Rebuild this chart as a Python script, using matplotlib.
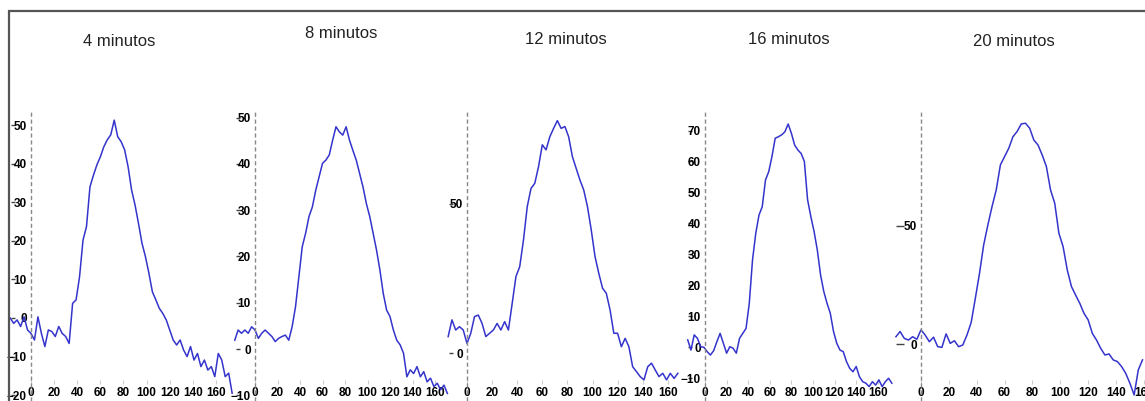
import numpy as np
import matplotlib.pyplot as plt
from matplotlib.patches import Rectangle
from matplotlib.ticker import FixedLocator, NullFormatter

minutos = [4, 8, 12, 16, 20]
titulos = [f"{m} minutos" for m in minutos]

# first sample time of each trace, samples every 3 units
x_inicio = [-18, -18, -15, -16, -18]
paso = 3

traza_4 = [0, -1.4, -0.5, -2.2, 0.3, -3.1, -4, -5.7, 0.3, -4, -7.4, -3.1, -3.5,
           -4.8, -2.2, -4, -4.8, -6.6, 3.8, 4.7, 10.7, 20.2, 23.7, 34, 37, 39.7,
           41.8, 44.4, 46.2, 47.5, 51.3, 47, 45.7, 43.6, 39.2, 33.2, 29.3, 24.5,
           19.4, 15.9, 11.6, 6.8, 4.7, 2.5, 1.2, -0.5, -3.1, -5.7, -7, -5.7, -8.3,
           -10, -7.4, -10.9, -9.2, -12.6, -10.9, -13.5, -12.6, -15.2, -9.2, -10.9,
           -15.2, -14.3, -19.5]
traza_8 = [1.9, 4.1, 3.4, 4.1, 3.4, 4.8, 4.1, 2.3, 3.4, 4.1, 3.4, 2.7, 1.6, 2.3,
           2.7, 3.0, 1.9, 4.8, 9.1, 15.6, 22.1, 25, 28.6, 30.7, 34.3, 37.2, 40.1,
           40.8, 41.9, 45.1, 48, 46.9, 46.2, 48, 45.1, 42.9, 40.8, 37.9, 35, 31.4,
           28.6, 25, 21.4, 17.1, 12, 8.4, 7, 4.1, 1.9, 0.9, -0.9, -6, -4.5, -5.3,
           -3.8, -6, -4.9, -7.1, -6.3, -8.1, -7.4, -8.8, -7.8, -9.6]
traza_12 = [5.6, 11.2, 7.8, 8.9, 7.8, 3.3, 6.7, 12.3, 12.8, 10, 5.6, 6.7, 7.8, 10,
            7.8, 10.6, 7.8, 16.7, 25.7, 29, 37.9, 49.1, 55.2, 56.9, 62.5, 69.8,
            68.1, 72.5, 75.3, 77.9, 75.3, 75.9, 72.5, 65.8, 61.9, 58, 54.7, 49.1,
            41.3, 32.4, 26.8, 21.8, 20.1, 14.5, 6.7, 6.7, 2.2, 5, 2.2, -4.5, -6.1,
            -7.8, -8.9, -4.5, -3.3, -5.6, -7.8, -6.7, -8.9, -6.7, -8.4, -6.7]
traza_16 = [2.4, -0.9, 4, 2.9, 0.2, 0, -1.4, -2.5, -1.1, 1.8, 4.5, 1.3, -1.9, 0.2,
            -0.3, -1.9, 2.9, 4.5, 6.1, 14.2, 28.2, 36.8, 42.7, 45.4, 54, 56.7,
            61.6, 67.5, 68, 68.6, 69.6, 72.1, 69.1, 65.3, 63.7, 62.6, 60, 47.6,
            42.2, 37.4, 31.4, 23.4, 18, 14.2, 11, 5.1, 1.3, -0.9, -1.4, -4.6,
            -6.8, -7.9, -6.2, -9.5, -11.1, -11.6, -12.7, -11.1, -12.2, -10.5,
            -12.7, -11.1, -10, -11.6]
traza_20 = [3.2, 5.4, 2.5, 1.8, 3.2, 2.1, 6.1, 3.9, 1.1, 3, -1, -1.3, 4.4, 0.4,
            1.5, -1, -0.3, 3.9, 9.2, 19.4, 30, 42, 50.4, 58.2, 65.2, 75.8, 79.3,
            82.8, 87.7, 89.9, 93.1, 93.4, 91.3, 86.3, 84.2, 80, 75.1, 65.2, 59.6,
            46.9, 41.3, 31.4, 24.4, 20.8, 17.3, 13.1, 10.3, 4.6, 1.8, -1.7, -4.5,
            -4.1, -6.6, -7.3, -9.4, -12.3, -16.5, -21.4, -10.8, -6.6]
trazas = [traza_4, traza_8, traza_12, traza_16, traza_20]

yticks = [
    [-20, -10, 0, 10, 20, 30, 40, 50],
    [-10, 0, 10, 20, 30, 40, 50],
    [0, 50],
    [-10, 0, 10, 20, 30, 40, 50, 60, 70],
    [0, 50],
]
xticks = [0, 20, 40, 60, 80, 100, 120, 140, 160]

W, H = 1145, 401
TOP, BOT = 110, 401

# pixel layout per panel: left, right, x=0 column, px per x unit,
# y=0 row, px per y unit, y tick mark column, tick length, title x, title y
paneles = [
    (10, 234, 31, 1.156, 318.0, 3.857, 11, 3, 119, 42),
    (234, 452, 255, 1.125, 349.0, 4.63, 236, 3, 341, 34),
    (447, 684, 467, 1.255, 353.3, 2.987, 449, 3, 566, 39),
    (684, 898, 705, 1.08, 347.3, 3.097, 688, 3, 789, 39),
    (893, 1145, 921, 1.393, 344.3, 2.367, 896, 6, 1014, 42),
]

plt.rcParams['font.family'] = ['Liberation Sans', 'DejaVu Sans']

fig = plt.figure(figsize=(W / 100, H / 100), dpi=100)

# outer frame (only top and left edges fall inside the figure)
fig.add_artist(Rectangle((9 / W, -0.2), 2, 1.2 - 11 / H, transform=fig.transFigure,
                         fill=False, edgecolor='#555555', lw=1.6))

for i in range(5):
    izq, der, x0, ppx, y0, ppy, tx, tlen, titx, tity = paneles[i]
    ax = fig.add_axes([izq / W, 1 - BOT / H, (der - izq) / W, (BOT - TOP) / H])
    ax.patch.set_alpha(0)
    ax.set_xlim((izq - x0) / ppx, (der - x0) / ppx)
    ax.set_ylim(-(BOT - y0) / ppy, (y0 - TOP) / ppy)

    vals = trazas[i]
    x = x_inicio[i] + paso * np.arange(len(vals))
    ax.plot(x, vals, color='#3434cc', lw=1.1)
    ax.axvline(0, color='#888888', lw=1.0, ls=(0, (3, 2)))

    for s in ax.spines.values():
        s.set_visible(False)
    ax.spines['left'].set_position(('data', 0))
    ax.set_xticks([])
    ax.set_yticks(yticks[i])
    ax.tick_params(axis='y', length=0, pad=3, labelsize=8.5)
    for lab in ax.get_yticklabels():
        lab.set_fontweight('bold')

    # short tick marks sitting left of the y labels
    sy = ax.secondary_yaxis((tx - izq) / (der - izq))
    sy.yaxis.set_major_locator(FixedLocator(yticks[i]))
    sy.yaxis.set_major_formatter(NullFormatter())
    sy.tick_params(axis='y', direction='in', length=tlen, width=1, color='#444444')
    for s in sy.spines.values():
        s.set_visible(False)

    sx = ax.secondary_xaxis((BOT - 384) / (BOT - TOP))
    sx.xaxis.set_major_locator(FixedLocator(xticks))
    sx.tick_params(axis='x', direction='in', length=3, width=0.8, color='#cccccc',
                   pad=2, labelsize=8.5)
    for lab in sx.get_xticklabels():
        lab.set_fontweight('bold')
    for s in sx.spines.values():
        s.set_visible(False)

    fig.text(titx / W, 1 - tity / H, titulos[i], ha='center', va='center',
             fontsize=12, color='#222222')

fig.savefig('out.png', dpi=100)
